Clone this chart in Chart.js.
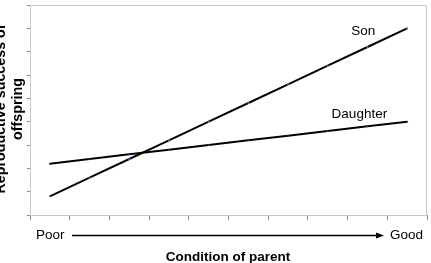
<!DOCTYPE html>
<html>
<head>
<meta charset="utf-8">
<script src="https://cdn.jsdelivr.net/npm/chart.js@4"></script>
<style>
  html, body { margin: 0; padding: 0; background: #fff; }
  #wrap { width: 431px; height: 263px; position: relative; }
</style>
</head>
<body>
<div id="wrap"><canvas id="chart" width="431" height="263"></canvas></div>
<script>
// condition steps from poor to good
const categories = ["1", "2", "3", "4", "5", "6", "7", "8", "9", "10"];
const sonValues = [0.8, 1.6, 2.4, 3.2, 4.0, 4.8, 5.6, 6.4, 7.2, 8.0];
const daughterValues = [2.2, 2.4, 2.6, 2.8, 3.0, 3.2, 3.4, 3.6, 3.8, 4.0];
const yTitle = ["Reproductive success of", "offspring"];
const xTitle = "Condition of parent";

// extra text and the border box, drawn on the canvas
const extras = {
  id: "extras",
  beforeDatasetsDraw(chart) {
    const { ctx, chartArea: a } = chart;
    ctx.save();
    ctx.strokeStyle = "#c8c8c8";
    ctx.lineWidth = 1;
    ctx.strokeRect(a.left + 0.5, a.top + 0.5, a.right - a.left - 1, a.bottom - a.top);
    ctx.restore();
  },
  afterDraw(chart) {
    const { ctx, chartArea: a, scales } = chart;
    ctx.save();
    ctx.fillStyle = "#000";
    ctx.font = "13.5px 'Liberation Sans', Arial, sans-serif";
    ctx.textBaseline = "middle";

    // series labels
    const xLast = scales.x.getPixelForValue(categories.length - 1);
    ctx.textAlign = "right";
    ctx.fillText("Son", xLast - 32, scales.y.getPixelForValue(sonValues[9]) + 3);
    ctx.fillText("Daughter", xLast - 20, scales.y.getPixelForValue(daughterValues[9]) - 7);

    // poor -> good arrow
    const yA = 235.5;
    ctx.textAlign = "left";
    ctx.fillText("Poor", 36, yA);
    ctx.fillText("Good", 390, yA);
    ctx.strokeStyle = "#000";
    ctx.lineWidth = 1.5;
    ctx.beginPath();
    ctx.moveTo(72, yA);
    ctx.lineTo(378, yA);
    ctx.stroke();
    ctx.beginPath();
    ctx.moveTo(384, yA);
    ctx.lineTo(376, yA - 3);
    ctx.lineTo(376, yA + 3);
    ctx.closePath();
    ctx.fill();

    // axis titles
    ctx.font = "bold 13.5px 'Liberation Sans', Arial, sans-serif";
    ctx.textAlign = "center";
    ctx.fillText(xTitle, 228, 257);

    ctx.font = "bold 14.3px 'Liberation Sans', Arial, sans-serif";
    const yc = (a.top + a.bottom) / 2 - 1;
    ctx.translate(0, yc);
    ctx.rotate(-Math.PI / 2);
    ctx.textBaseline = "alphabetic";
    ctx.fillText(yTitle[0], 0, 5);
    ctx.fillText(yTitle[1], 0, 21.5);
    ctx.restore();
  }
};

new Chart(document.getElementById("chart"), {
  type: "line",
  data: {
    labels: categories,
    datasets: [
      {
        label: "Son",
        data: sonValues,
        borderColor: "#000",
        borderWidth: 2,
        pointRadius: 1,
        pointBorderWidth: 0,
        pointBackgroundColor: "#cc33cc",
        tension: 0,
      },
      {
        label: "Daughter",
        data: daughterValues,
        borderColor: "#000",
        borderWidth: 2,
        pointRadius: 1,
        pointBorderWidth: 0,
        pointBackgroundColor: "#333380",
        tension: 0,
      },
    ],
  },
  options: {
    responsive: false,
    animation: false,
    layout: { padding: { top: 5, right: 4, left: 0, bottom: 0 } },
    plugins: {
      legend: { display: false },
      tooltip: { enabled: false },
    },
    scales: {
      x: {
        offset: true,
        grid: { offset: true, drawOnChartArea: false, drawTicks: true, tickLength: 5, color: "#888" },
        border: { color: "#888", width: 1 },
        ticks: { display: false },
        afterFit: (s) => { s.height = 48; },
      },
      y: {
        min: 0,
        max: 9,
        ticks: { display: false, stepSize: 1 },
        grid: { drawOnChartArea: false, drawTicks: true, tickLength: 3, color: "#888" },
        border: { color: "#888", width: 1 },
        afterFit: (s) => { s.width = 30; },
      },
    },
  },
  plugins: [extras],
});
</script>
</body>
</html>
